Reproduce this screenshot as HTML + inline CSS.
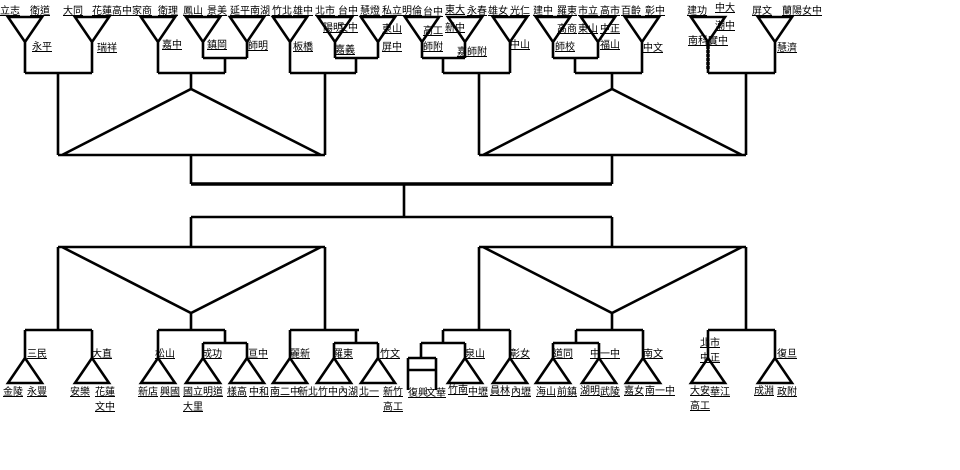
<!DOCTYPE html>
<html><head><meta charset="utf-8">
<style>
html,body{margin:0;padding:0;background:#fff;}
svg{display:block;}
text{font-family:"Liberation Sans","Noto Sans CJK TC",sans-serif;font-size:10px;fill:#000;text-decoration:underline;}
</style></head>
<body>
<svg width="960" height="470" viewBox="0 0 960 470" xmlns="http://www.w3.org/2000/svg">
<g fill="none" stroke="#000" stroke-width="2.6" stroke-linejoin="miter">
<path d="M8 17H42L25 42Z M25 42V73"/>
<path d="M75 17H109L92 42Z M92 42V73"/>
<path d="M25 73H92 M58 73V155"/>
<path d="M141 17H175L158 42Z M158 42V73"/>
<path d="M186 17H220L203 42Z M203 42V58"/>
<path d="M230 17H264L247 42Z M247 42V58"/>
<path d="M203 58H247 M225 58V73 M158 73H225 M191 73V89"/>
<path d="M273 17H307L290 42Z M290 42V73"/>
<path d="M318 17H352L335 42Z M335 42V58"/>
<path d="M361 17H395L378 42Z M378 42V58"/>
<path d="M335 58H378 M356 58V73 M290 73H356 M325 73V155"/>
<path d="M62 155L191 89L321 155 M58 155H325 M191 155V184"/>
<path d="M405 17H439L422 42Z M422 42V58"/>
<path d="M448 17H482L465 42Z M465 42V58"/>
<path d="M422 58H465 M443 58V73"/>
<path d="M493 17H527L510 42Z M510 42V73"/>
<path d="M443 73H510 M479 73V155"/>
<path d="M536 17H570L553 42Z M553 42V58"/>
<path d="M581 17H615L598 42Z M598 42V58"/>
<path d="M553 58H598 M575 58V73"/>
<path d="M625 17H659L642 42Z M642 42V73"/>
<path d="M575 73H642 M612 73V89"/>
<path d="M691 17H725L708 42Z M708 42V73"/>
<path d="M758 17H792L775 42Z M775 42V73"/>
<path d="M708 73H775 M746 73V155"/>
<path d="M483 155L612 89L742 155 M479 155H746 M612 155V184"/>
<path d="M191 184H612" stroke-width="3.5"/>
<path d="M404 184V217 M191 217H612 M191 217V247 M612 217V247"/>
<path d="M62 247L191 313L321 247 M58 247H325 M58 247V330 M325 247V330 M191 313V330"/>
<path d="M483 247L612 313L742 247 M479 247H746 M479 247V330 M746 247V330 M612 313V330"/>
<path d="M25 330H92 M25 330V358 M92 330V358"/>
<path d="M25 358L8 383H42Z M92 358L75 383H109Z"/>
<path d="M158 330H225 M158 330V358 M225 330V343 M203 343H247 M203 343V358 M247 343V358"/>
<path d="M158 358L141 383H175Z M203 358L186 383H220Z M247 358L230 383H264Z"/>
<path d="M290 330H359 M290 330V358 M356 330V343 M334 343H378 M334 343V358 M378 343V358"/>
<path d="M290 358L273 383H307Z M334 358L317 383H351Z M378 358L361 383H395Z"/>
<path d="M443 330H510 M443 330V343 M421 343H465 M421 343V358 M465 343V358 M510 330V358"/>
<path d="M408 358H436 M408 358V390 M436 358V390 M408 370H436"/>
<path d="M465 358L448 383H482Z M510 358L493 383H527Z"/>
<path d="M576 330H643 M576 330V343 M553 343H599 M553 343V358 M599 343V358 M643 330V358"/>
<path d="M553 358L536 383H570Z M599 358L582 383H616Z M643 358L626 383H660Z"/>
<path d="M708 330H775 M708 330V358 M775 330V358"/>
<path d="M708 358L691 383H725Z M775 358L758 383H792Z"/>
</g>
<path d="M708 42V70" stroke="#000" stroke-width="3.5" stroke-dasharray="3 1"/>
<g>
<text x="0" y="14">立志</text><text x="30" y="14">衛道</text>
<text x="63" y="14">大同</text><text x="92" y="14">花蓮高中</text>
<text x="132" y="14">家商</text><text x="158" y="14">衛理</text>
<text x="183" y="14">鳳山</text><text x="207" y="14">景美</text>
<text x="230" y="14">延平</text><text x="250" y="14">南湖</text>
<text x="272" y="14">竹北</text><text x="293" y="14">雄中</text>
<text x="315" y="14">北市</text><text x="338" y="14">台中</text>
<text x="360" y="14">慧燈</text><text x="382" y="14">私立</text>
<text x="402" y="14">明倫</text><text x="423" y="15">台中</text>
<text x="445" y="13">東大</text><text x="467" y="14">永春</text>
<text x="488" y="14">雄女</text><text x="510" y="14">光仁</text>
<text x="533" y="14">建中</text><text x="557" y="14">羅東</text>
<text x="578" y="14">市立</text><text x="600" y="14">高市</text>
<text x="621" y="14">百齡</text><text x="645" y="14">彰中</text>
<text x="687" y="14">建功</text><text x="715" y="11">中大</text>
<text x="752" y="14">屏文</text><text x="782" y="14">蘭陽女中</text>
<text x="323" y="31">陽明</text><text x="338" y="31">文中</text>
<text x="382" y="32">東山</text><text x="423" y="34">高工</text>
<text x="445" y="31">新中</text>
<text x="557" y="32">高商</text><text x="578" y="32">東山</text><text x="600" y="32">中正</text>
<text x="715" y="29">潮中</text><text x="688" y="44">南科實中</text>
<text x="32" y="50">永平</text><text x="97" y="51">瑞祥</text>
<text x="162" y="48">嘉中</text><text x="207" y="48">鎮岡</text>
<text x="248" y="49">師明</text><text x="293" y="50">板橋</text>
<text x="335" y="53">嘉義</text><text x="382" y="50">屏中</text>
<text x="423" y="50">師附</text><text x="457" y="55">嘉師附</text>
<text x="510" y="48">中山</text><text x="555" y="50">師校</text>
<text x="600" y="48">福山</text><text x="643" y="51">中文</text>
<text x="777" y="51">慧濟</text>
<text x="27" y="357">三民</text><text x="92" y="357">大直</text>
<text x="155" y="357">松山</text><text x="202" y="357">成功</text><text x="248" y="357">亘中</text>
<text x="290" y="357">麗新</text><text x="333" y="357">羅東</text><text x="380" y="357">竹文</text>
<text x="465" y="357">泉山</text><text x="510" y="357">彰女</text>
<text x="553" y="357">道同</text><text x="590" y="357">中一中</text><text x="643" y="357">南文</text>
<text x="700" y="346">北市</text><text x="700" y="361">中正</text>
<text x="777" y="357">復旦</text>
<text x="3" y="395">金陵</text><text x="27" y="395">永豐</text>
<text x="70" y="395">安樂</text><text x="95" y="395">花蓮</text><text x="95" y="410">文中</text>
<text x="138" y="395">新店</text><text x="160" y="395">興國</text>
<text x="183" y="395">國立</text><text x="203" y="395">明道</text><text x="183" y="410">大里</text>
<text x="227" y="395">樣高</text><text x="249" y="395">中和</text>
<text x="270" y="395">南二中</text><text x="298" y="395">新北</text>
<text x="318" y="395">竹中</text><text x="338" y="395">內湖</text>
<text x="359" y="395">北一</text><text x="383" y="395">新竹</text><text x="383" y="410">高工</text>
<text x="408" y="396">復興</text><text x="426" y="396">文華</text>
<text x="448" y="393">竹南</text><text x="468" y="395">中壢</text>
<text x="490" y="394">員林</text><text x="511" y="395">內壢</text>
<text x="536" y="395">海山</text><text x="557" y="395">前鎮</text>
<text x="580" y="394">湖明</text><text x="600" y="395">武陵</text>
<text x="624" y="394">嘉女</text><text x="645" y="394">南一中</text>
<text x="690" y="394">大安</text><text x="690" y="409">高工</text><text x="710" y="395">華江</text>
<text x="754" y="394">成淵</text><text x="777" y="395">政附</text>
</g>
</svg>
</body></html>
